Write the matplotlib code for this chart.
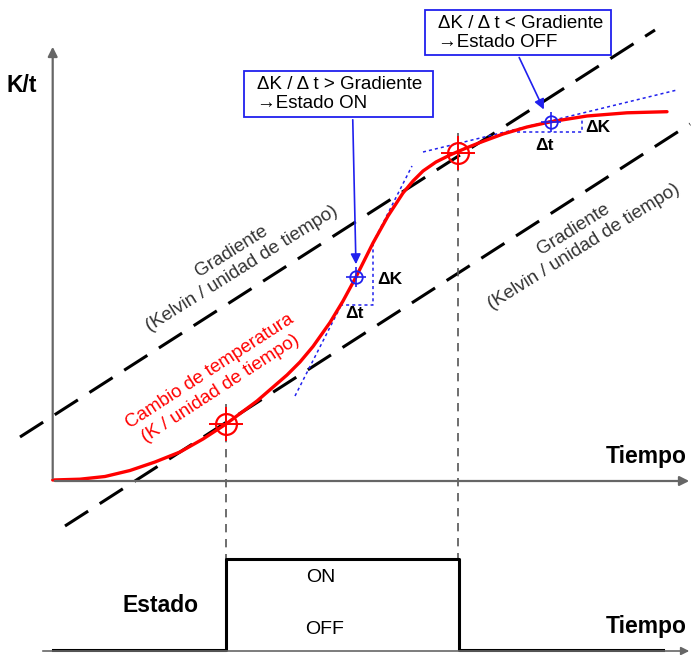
import matplotlib
matplotlib.use("Agg")
import matplotlib.pyplot as plt
from matplotlib.patches import Rectangle

plt.rcParams['font.family'] = ['Liberation Sans', 'DejaVu Sans']

# --- data (diagram coordinates, y grows downwards) ---
curve_x = [52.7, 80, 105, 130, 155, 180, 203, 226, 257, 287, 300, 313, 330, 343, 356,
           373, 388, 403, 413, 423, 436, 450, 465, 480, 503, 527, 551, 587, 627, 667]
curve_y = [480, 479.2, 476.5, 470.5, 462, 452, 439, 424, 401, 375, 362, 346.5, 322.5, 301, 277,
           243, 216, 193, 181, 171, 162, 155, 148.5, 142.5, 134, 127, 121.7, 116, 112.8, 111.7]

grad_upper_x = [20, 655]
grad_upper_y = [437, 30]
grad_lower_x = [65, 690]
grad_lower_y = [526, 124]

switch_x = [226, 458]          # where the curve crosses the gradient
switch_y = [424, 153]
check_x = [356, 551]           # where dK/dt is checked
check_y = [277, 122]

tangent_on_x = [295, 412]
tangent_on_y = [396, 166]
tangent_off_x = [423, 677]
tangent_off_y = [152, 90]

tri_on_x = [340, 373, 373]
tri_on_y = [305, 305, 243]
tri_off_x = [517, 582, 582]
tri_off_y = [132, 132, 117]

state_x = [53, 226, 226, 459, 459, 663]
state_y = [650, 650, 559, 559, 650, 650]

box_on_text = "\u0394K / \u0394 t > Gradiente\n\u2192Estado ON"
box_off_text = "\u0394K / \u0394 t < Gradiente\n\u2192Estado OFF"
grad_label = "Gradiente\n(Kelvin / unidad de tiempo)"
curve_label = "Cambio de temperatura\n(K / unidad de tiempo)"

blue = '#2020ee'
gray = '#666666'

fig = plt.figure(figsize=(6.92, 6.55), dpi=100)
ax = fig.add_axes([0, 0, 1, 1])
ax.set_xlim(0, 692)
ax.set_ylim(655, 0)
ax.axis('off')

# axes of the upper diagram
ax.annotate('', xy=(52.7, 44), xytext=(52.7, 481),
            arrowprops=dict(arrowstyle='-|>', color=gray, lw=1.6, mutation_scale=14))
ax.annotate('', xy=(692, 481), xytext=(52, 481),
            arrowprops=dict(arrowstyle='-|>', color=gray, lw=1.6, mutation_scale=14))
ax.text(6, 85, 'K/t', fontsize=16.5, fontweight='bold', ha='left', va='center')
ax.text(687, 456, 'Tiempo', fontsize=16.5, fontweight='bold', ha='right', va='center')

# gradient lines
for gx, gy in [(grad_upper_x, grad_upper_y), (grad_lower_x, grad_lower_y)]:
    ln, = ax.plot(gx, gy, color='black', lw=2.2)
    ln.set_dashes([9, 4.5])
ax.text(237, 260, grad_label, fontsize=13.5, color='#333333', rotation=32,
        rotation_mode='anchor', ha='center', va='center', multialignment='center')
ax.text(579, 238, grad_label, fontsize=13.5, color='#333333', rotation=32,
        rotation_mode='anchor', ha='center', va='center', multialignment='center')

# vertical guides
for sx, sy in zip(switch_x, switch_y):
    ax.plot([sx, sx], [sy - 20, 559], color='#555555', lw=1.2, ls=(0, (5, 4)))

# tangents and delta triangles
ax.plot(tangent_on_x, tangent_on_y, color=blue, lw=1.1, ls=(0, (2, 2)))
ax.plot(tangent_off_x, tangent_off_y, color=blue, lw=1.1, ls=(0, (2, 2)))
ax.plot(tri_on_x, tri_on_y, color=blue, lw=1.1, ls=(0, (2, 2)))
ax.plot(tri_off_x, tri_off_y, color=blue, lw=1.1, ls=(0, (2, 2)))
ax.text(377, 279, '\u0394K', fontsize=12.5, fontweight='bold', ha='left', va='center')
ax.text(355, 314, '\u0394t', fontsize=12.5, fontweight='bold', ha='center', va='center')
ax.text(585, 127, '\u0394K', fontsize=12.5, fontweight='bold', ha='left', va='center')
ax.text(545, 145, '\u0394t', fontsize=12.5, fontweight='bold', ha='center', va='center')

# temperature curve
ax.plot(curve_x, curve_y, color='#ff0000', lw=2.4, solid_capstyle='round',
        solid_joinstyle='round')
ax.text(215, 380, curve_label, fontsize=13.5, color='#ff0000', rotation=33,
        rotation_mode='anchor', ha='center', va='center', multialignment='center')

# markers
ax.plot(switch_x, switch_y, ls='none', marker='o', ms=15, mfc='none', mec='#ff0000', mew=1.6)
ax.plot(switch_x, switch_y, ls='none', marker='+', ms=24, mec='#ff0000', mew=1.4)
ax.plot(check_x, check_y, ls='none', marker='o', ms=9, mfc='none', mec=blue, mew=1.3)
ax.plot(check_x, check_y, ls='none', marker='+', ms=14, mec=blue, mew=1.2)

# callout boxes
ax.add_patch(Rectangle((244, 71), 189, 46, fill=False, ec=blue, lw=1.3))
ax.text(257, 94, box_on_text, fontsize=13.5, ha='left', va='center', linespacing=1.15)
ax.annotate('', xy=(356, 267), xytext=(352.7, 117),
            arrowprops=dict(arrowstyle='-|>', color=blue, lw=1.2, mutation_scale=15))
ax.add_patch(Rectangle((425, 10), 186, 45, fill=False, ec=blue, lw=1.3))
ax.text(438, 33, box_off_text, fontsize=13.5, ha='left', va='center', linespacing=1.15)
ax.annotate('', xy=(545, 112), xytext=(518, 55),
            arrowprops=dict(arrowstyle='-|>', color=blue, lw=1.2, mutation_scale=15))

# state diagram
ax.annotate('', xy=(692, 651), xytext=(40, 651),
            arrowprops=dict(arrowstyle='-|>', color=gray, lw=1.2, mutation_scale=12))
ax.plot(state_x, state_y, color='black', lw=2.2)
ax.text(160, 605, 'Estado', fontsize=16.5, fontweight='bold', ha='center', va='center')
ax.text(321, 577, 'ON', fontsize=14, ha='center', va='center')
ax.text(325, 630, 'OFF', fontsize=14, ha='center', va='center')
ax.text(687, 627, 'Tiempo', fontsize=16.5, fontweight='bold', ha='right', va='center')

fig.savefig('out.png', dpi=100)
